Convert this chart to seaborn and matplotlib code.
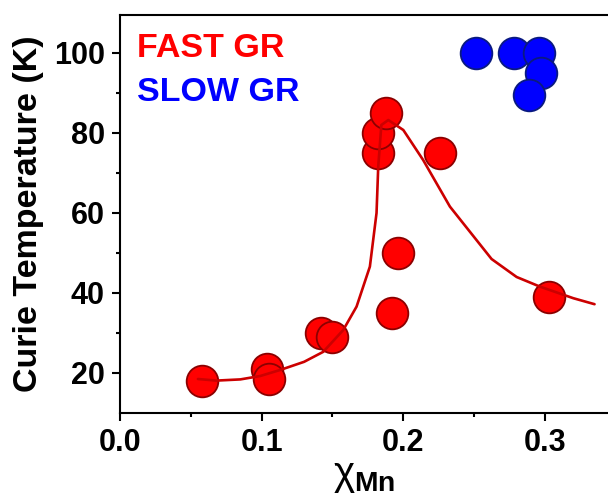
import numpy as np
import pandas as pd
import matplotlib
matplotlib.use("Agg")
import matplotlib.pyplot as plt
import seaborn as sns

# measured points
fast_x = [0.058, 0.104, 0.105, 0.142, 0.150, 0.182, 0.182, 0.188, 0.192, 0.196, 0.226, 0.303]
fast_y = [18, 21, 18.5, 30, 29, 75, 80, 85, 35, 50, 75, 39]
slow_x = [0.251, 0.278, 0.296, 0.297, 0.289]
slow_y = [100, 100, 100, 95, 89.5]

# guide-to-the-eye curve
fit_x = [0.055, 0.068, 0.085, 0.099, 0.113, 0.130, 0.1435, 0.1576, 0.167, 0.1764, 0.1811,
         0.1823, 0.1845, 0.1894, 0.200, 0.214, 0.2329, 0.2623, 0.280, 0.2964, 0.320, 0.335]
fit_y = [18.5, 18.1, 18.4, 19.25, 20.75, 22.8, 25.3, 30.75, 36.6, 46.6, 60,
         71.6, 82.0, 83.25, 80.75, 73.25, 61.6, 48.5, 44, 41.6, 38.7, 37.2]

fast = pd.DataFrame({"x": fast_x, "y": fast_y})
slow = pd.DataFrame({"x": slow_x, "y": slow_y})
fit = pd.DataFrame({"x": fit_x, "y": fit_y})

sns.set_style("white")
plt.rcParams["font.family"] = ["Liberation Sans", "DejaVu Sans"]
plt.rcParams["mathtext.fontset"] = "custom"
plt.rcParams["mathtext.rm"] = "Liberation Sans"
plt.rcParams["mathtext.bf"] = "Liberation Sans:bold"
plt.rcParams["mathtext.it"] = "Liberation Sans:italic"
plt.rcParams["text.color"] = "black"
plt.rcParams["axes.labelcolor"] = "black"
plt.rcParams["xtick.color"] = "black"
plt.rcParams["ytick.color"] = "black"

fig = plt.figure(figsize=(6.08, 4.97), dpi=100)
ax = fig.add_axes([120 / 608, 84 / 497, 1 - 120 / 608, (413 - 15) / 497])

sns.scatterplot(data=fast, x="x", y="y", ax=ax, s=520, color="#ff0000",
                edgecolor="#8b0000", linewidth=1.3, zorder=2)
sns.scatterplot(data=slow, x="x", y="y", ax=ax, s=520, color="#0000ff",
                edgecolor="#0a1a80", linewidth=1.3, zorder=2)
sns.lineplot(data=fit, x="x", y="y", ax=ax, color="#cc0000", lw=1.9,
             sort=False, estimator=None, zorder=3)

ax.set_xlim(0, 0.3445)
ax.set_ylim(10, 109.5)
ax.set_xticks([0.0, 0.1, 0.2, 0.3])
ax.set_xticks([0.05, 0.15, 0.25], minor=True)
ax.set_yticks([20, 40, 60, 80, 100])
ax.set_yticks([30, 50, 70, 90], minor=True)
ax.set_xticklabels(["0.0", "0.1", "0.2", "0.3"])

for side in ["left", "bottom", "top"]:
    ax.spines[side].set_linewidth(1.5)
    ax.spines[side].set_color("black")
ax.spines["right"].set_visible(False)

ax.tick_params(which="major", direction="out", length=6, width=1.5, pad=5,
               labelsize=22, bottom=True, left=True, top=False, right=False)
ax.tick_params(which="minor", direction="out", length=3, width=1.5,
               bottom=True, left=True, top=False, right=False)
for lab in ax.get_xticklabels() + ax.get_yticklabels():
    lab.set_fontweight("bold")

ax.set_ylabel("Curie Temperature (K)", fontsize=24.5, fontweight="bold", labelpad=7)
ax.set_xlabel(r"$\mathrm{\chi}_{\mathbf{Mn}}$", fontsize=29, labelpad=-1)

ax.text(0.012, 99, "FAST GR", color="#ff0000", fontsize=24.5, fontweight="bold",
        va="baseline")
ax.text(0.012, 88, "SLOW GR", color="#0000ff", fontsize=24.5, fontweight="bold",
        va="baseline")

fig.savefig("out.png", dpi=100)
